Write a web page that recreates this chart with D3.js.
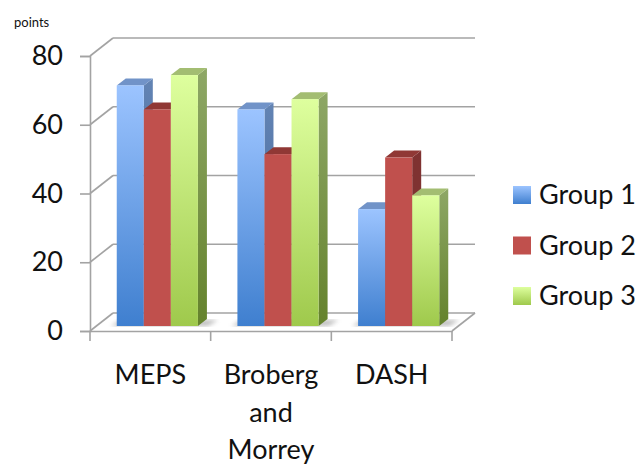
<!DOCTYPE html>
<html>
<head>
<meta charset="utf-8">
<script src="https://cdn.jsdelivr.net/npm/d3@7"></script>
<style>
  html, body { margin: 0; padding: 0; background: #fff; }
  svg { display: block; }
  text { font-family: Lato, "Open Sans", sans-serif; fill: #111; }
</style>
</head>
<body>
<svg></svg>
<script>
const categories = ["MEPS", "Broberg", "DASH"];
const extraLabelLines = [[], ["and", "Morrey"], []];
const groups = ["Group 1", "Group 2", "Group 3"];
const group1 = [70, 63, 34];
const group2 = [63, 50, 49];
const group3 = [73, 66, 38];
const yTicks = [0, 20, 40, 60, 80];

const svg = d3.select("svg").attr("width", 641).attr("height", 466);

const x = d3.scaleBand().domain(categories).range([90, 452]);
const xInner = d3.scaleBand().domain(groups).range([0, x.bandwidth()]).paddingInner(0).paddingOuter(0.73);
const y = d3.scaleLinear().domain([0, 80]).range([331, 56]);

// wall and bar depth in pixels
const wallDx = 23, wallDy = -18;
const barDx = 9, barDy = -7;
const shiftX = 7, shiftY = -5; // bars sit a bit behind the front edge
const axisColor = "#a3a3a3";

const styles = {
  "Group 1": { top: "#9cc4ff", bottom: "#3f7fcf", side1: "#6384b4", side2: "#3a5f93", cap: "#7193c8" },
  "Group 2": { top: "#c0504d", bottom: "#c0504d", side1: "#7f3231", side2: "#7f3231", cap: "#903835" },
  "Group 3": { top: "#deff9e", bottom: "#9fc94c", side1: "#8ea766", side2: "#64822c", cap: "#a3bd72" }
};

const defs = svg.append("defs");
groups.forEach((g, i) => {
  const front = defs.append("linearGradient").attr("id", `front${i}`)
    .attr("x1", 0).attr("y1", 0).attr("x2", 0).attr("y2", 1);
  front.append("stop").attr("offset", "0%").attr("stop-color", styles[g].top);
  front.append("stop").attr("offset", "100%").attr("stop-color", styles[g].bottom);
  const side = defs.append("linearGradient").attr("id", `side${i}`)
    .attr("x1", 0).attr("y1", 0).attr("x2", 0).attr("y2", 1);
  side.append("stop").attr("offset", "0%").attr("stop-color", styles[g].side1);
  side.append("stop").attr("offset", "100%").attr("stop-color", styles[g].side2);
});
defs.append("filter").attr("id", "shadow").append("feGaussianBlur").attr("stdDeviation", 2);

// gridlines on the back wall
const grid = svg.append("g");
grid.selectAll(".grid").data(yTicks).enter().append("line")
  .attr("class", "grid")
  .attr("x1", d => 90 + wallDx).attr("x2", 452 + wallDx)
  .attr("y1", d => y(d) + wallDy).attr("y2", d => y(d) + wallDy)
  .attr("stroke", axisColor).attr("stroke-width", 1.6);
grid.selectAll(".wall").data(yTicks).enter().append("line")
  .attr("class", "wall")
  .attr("x1", 90).attr("x2", 90 + wallDx)
  .attr("y1", d => y(d)).attr("y2", d => y(d) + wallDy)
  .attr("stroke", axisColor).attr("stroke-width", 1.6);
// floor right edge
grid.append("line")
  .attr("x1", 452).attr("x2", 452 + wallDx)
  .attr("y1", y(0)).attr("y2", y(0) + wallDy)
  .attr("stroke", axisColor).attr("stroke-width", 1.6);

// y axis
const yAxis = svg.append("g").attr("transform", "translate(90,0)")
  .call(d3.axisLeft(y).tickValues(yTicks).tickSize(10).tickPadding(17));
yAxis.selectAll("line, path").attr("stroke", axisColor).attr("stroke-width", 1.6);
yAxis.selectAll("text").style("font-size", "27px");

// x axis, labels are drawn below it
const xAxis = svg.append("g").attr("transform", `translate(0,${y(0)})`)
  .call(d3.axisBottom(x).tickSize(0).tickFormat(""));
xAxis.selectAll("path").attr("stroke", axisColor).attr("stroke-width", 1.6);
svg.selectAll(".xtick").data([...categories.map(c => x(c)), 452]).enter().append("line")
  .attr("class", "xtick")
  .attr("x1", d => d).attr("x2", d => d)
  .attr("y1", y(0)).attr("y2", y(0) + 10)
  .attr("stroke", axisColor).attr("stroke-width", 1.6);

categories.forEach((c, i) => {
  const lines = [c, ...extraLabelLines[i]];
  svg.selectAll(null).data(lines).enter().append("text")
    .attr("x", x(c) + x.bandwidth() / 2)
    .attr("y", (d, j) => 384 + j * 37.5)
    .attr("text-anchor", "middle")
    .style("font-size", "27px")
    .text(d => d);
});

// bars
const series = [group1, group2, group3];
const barW = xInner.bandwidth();

// soft floor shadow behind each cluster
svg.append("g").selectAll("path").data(categories).enter().append("path")
  .attr("d", c => {
    const x0 = x(c) + xInner(groups[0]) + shiftX, x1 = x(c) + xInner(groups[2]) + barW + shiftX;
    const b = y(0) + shiftY;
    return `M${x0 - 6},${b}L${x0 + 4},${b - 6}L${x1 + 20},${b - 6}L${x1 + 10},${b}Z`;
  })
  .attr("fill", "#8a8a8a").attr("opacity", 0.55).attr("filter", "url(#shadow)");

categories.forEach((c, i) => {
  groups.forEach((g, k) => {
    const v = series[k][i];
    const x0 = x(c) + xInner(g) + shiftX;
    const yTop = y(v) + shiftY;
    const yBot = y(0) + shiftY;
    const bar = svg.append("g").attr("class", "bar");
    bar.append("path")
      .attr("d", `M${x0 + barW},${yTop}L${x0 + barW + barDx},${yTop + barDy}L${x0 + barW + barDx},${yBot + barDy}L${x0 + barW},${yBot}Z`)
      .attr("fill", `url(#side${k})`);
    bar.append("path")
      .attr("d", `M${x0},${yTop}L${x0 + barDx},${yTop + barDy}L${x0 + barW + barDx},${yTop + barDy}L${x0 + barW},${yTop}Z`)
      .attr("fill", styles[g].cap);
    bar.append("rect")
      .attr("x", x0).attr("y", yTop)
      .attr("width", barW).attr("height", yBot - yTop)
      .attr("fill", `url(#front${k})`);
  });
});

// legend
const legend = svg.append("g");
const legendY = d3.scalePoint().domain(groups).range([195, 296]);
legend.selectAll("rect").data(groups).enter().append("rect")
  .attr("x", 513).attr("y", d => legendY(d) - 9)
  .attr("width", 18).attr("height", 18)
  .attr("fill", (d, i) => `url(#front${i})`);
legend.selectAll("text").data(groups).enter().append("text")
  .attr("x", 539).attr("y", d => legendY(d) + 9)
  .style("font-size", "27px")
  .text(d => d);

svg.append("text").attr("x", 14).attr("y", 27).style("font-size", "13px").text("points");
</script>
</body>
</html>
